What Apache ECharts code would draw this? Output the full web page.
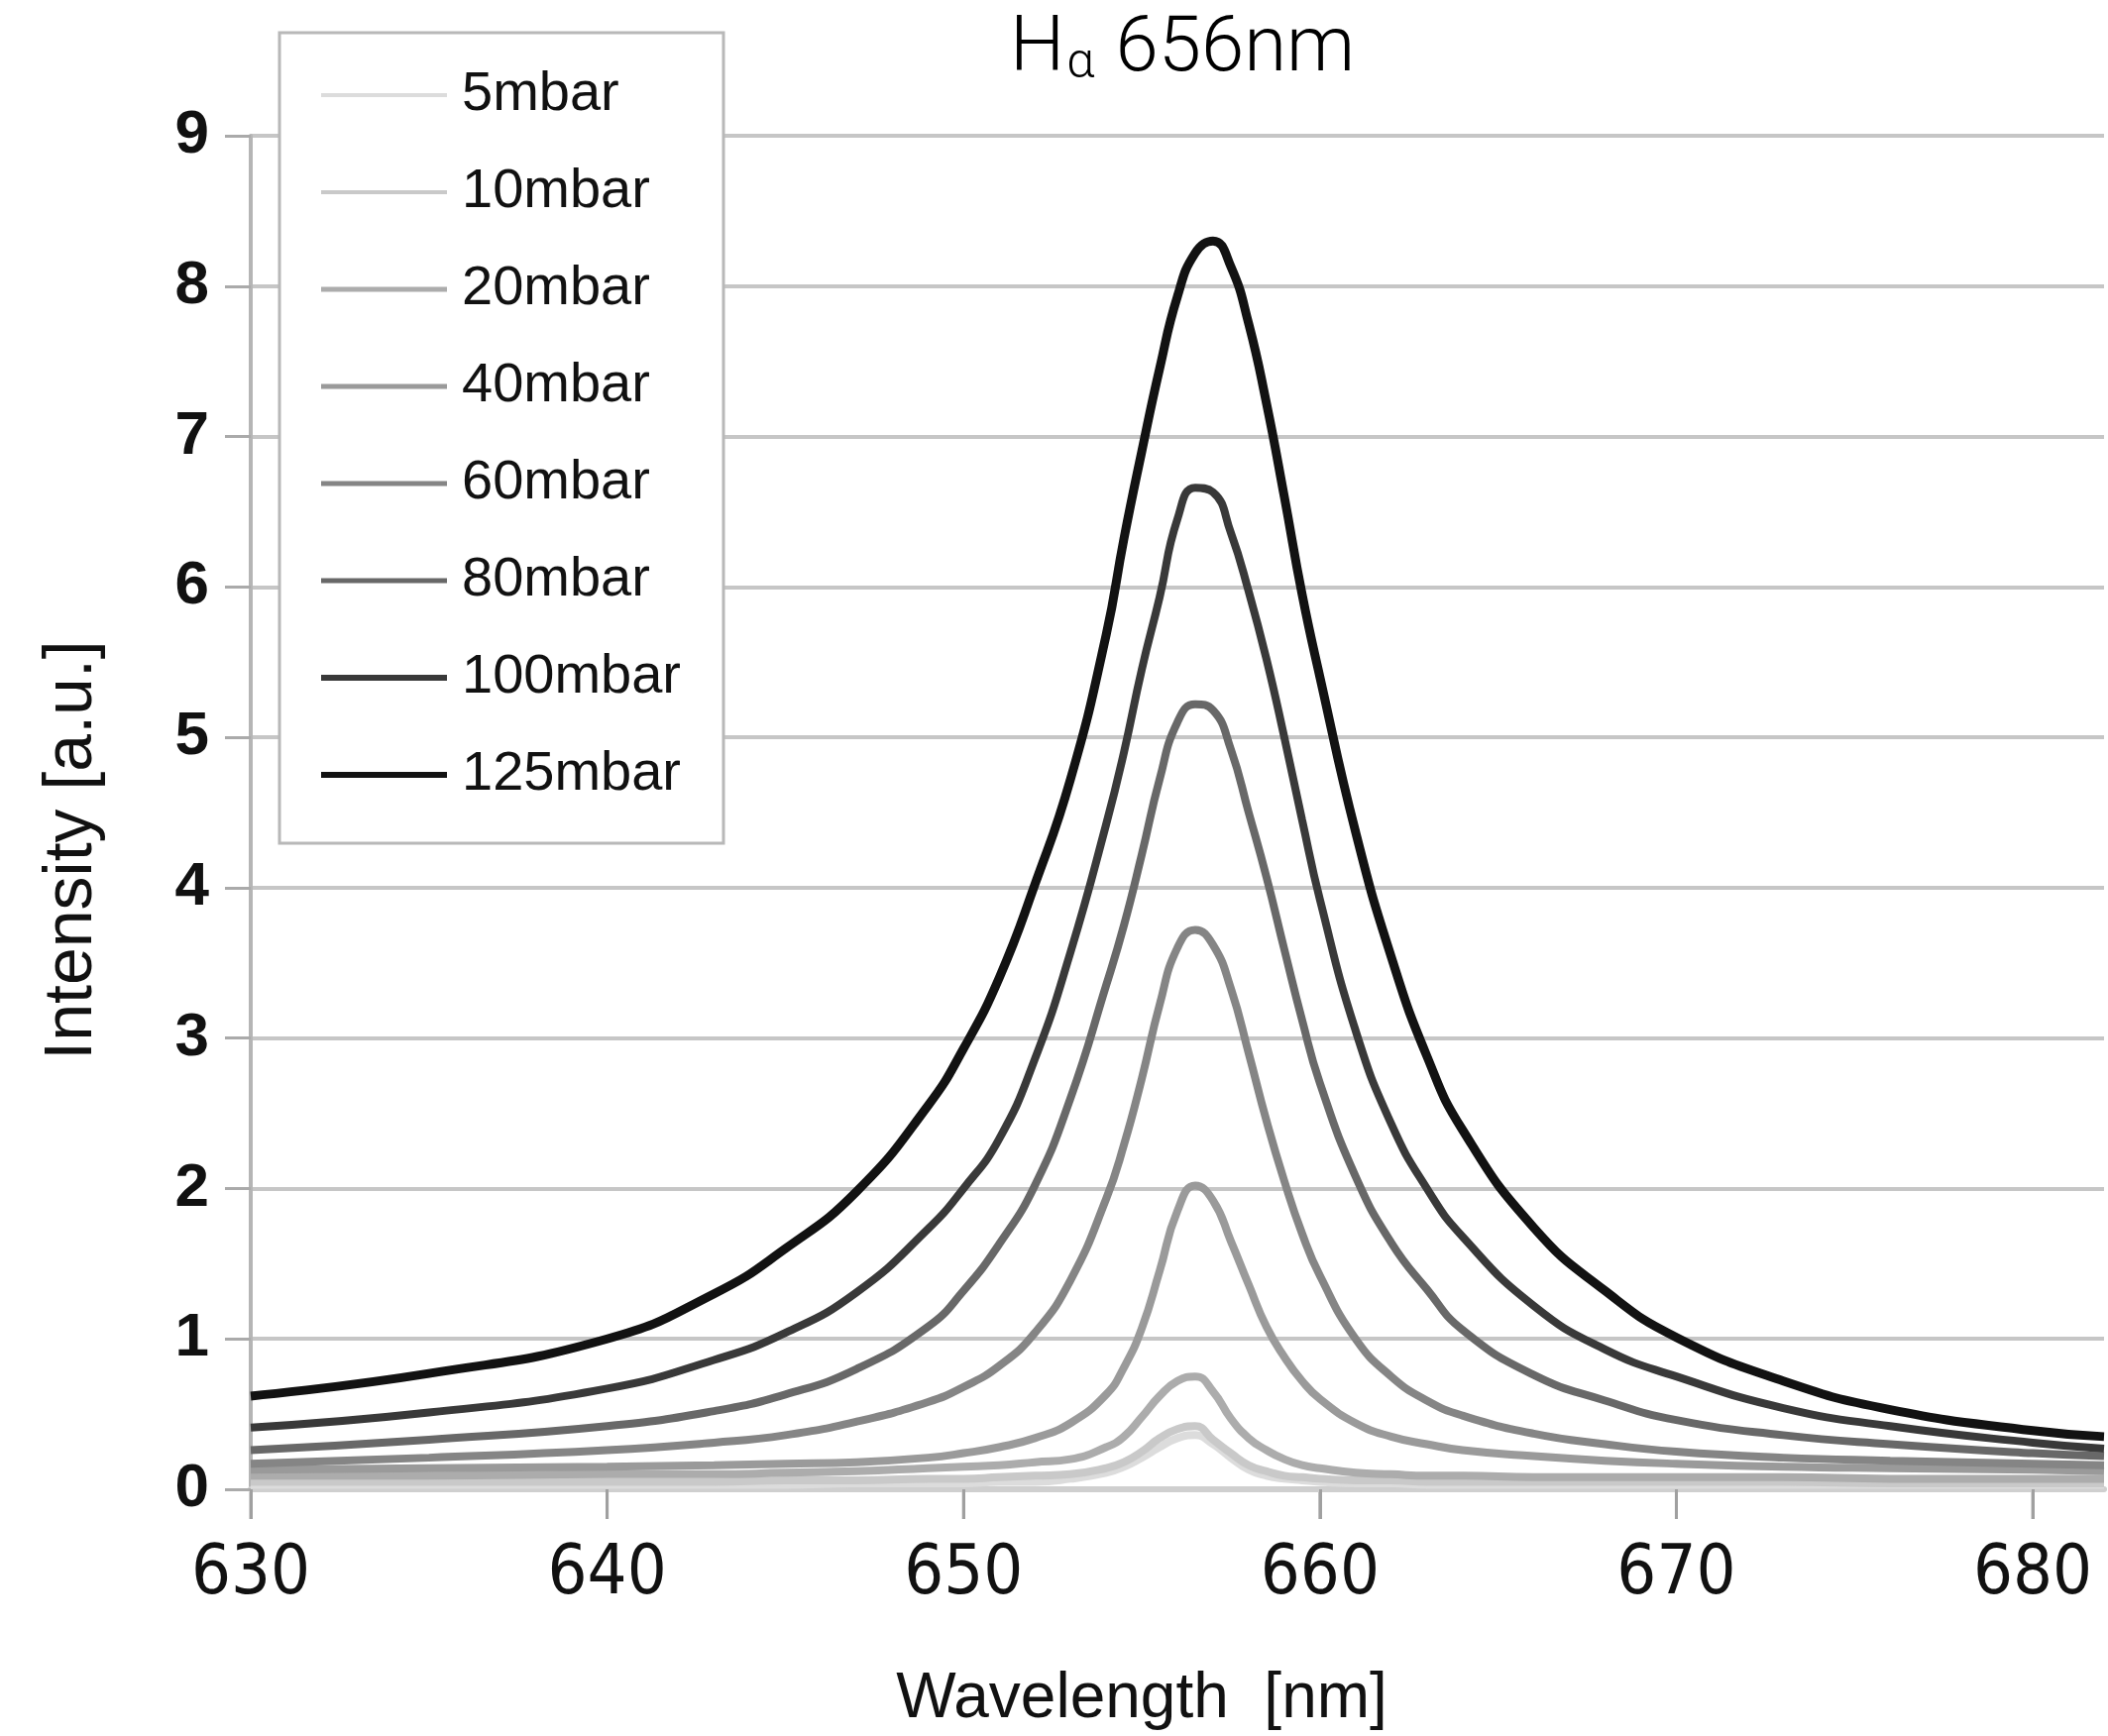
<!DOCTYPE html>
<html>
<head>
<meta charset="utf-8">
<title>H-alpha 656nm</title>
<style>
  html, body { margin: 0; padding: 0; background: #fff; }
  #chart-container { width: 2127px; height: 1752px; }
</style>
<script src="https://cdn.jsdelivr.net/npm/echarts@6.0.0/dist/echarts.min.js"></script>
</head>
<body>
<div id="chart-container"></div>
<script>
// wavelength grid [nm]
var wavelength = [630, 635, 640, 643, 645, 647, 649, 650, 651, 652, 653, 654, 654.5, 655, 655.5, 656, 656.5, 657, 657.5, 658, 658.5, 659, 659.5, 660, 661, 662, 663, 664, 666, 668, 670, 673, 676, 680, 682];

// intensity [a.u.] per pressure
var p5 = [0.03, 0.03, 0.03, 0.03, 0.03, 0.04, 0.04, 0.04, 0.05, 0.05, 0.07, 0.11, 0.15, 0.21, 0.28, 0.34, 0.36, 0.30, 0.21, 0.13, 0.09, 0.07, 0.06, 0.05, 0.04, 0.04, 0.03, 0.03, 0.03, 0.03, 0.03, 0.03, 0.03, 0.03, 0.03];
var p10 = [0.05, 0.05, 0.05, 0.05, 0.06, 0.06, 0.07, 0.07, 0.08, 0.09, 0.10, 0.14, 0.18, 0.25, 0.34, 0.40, 0.42, 0.33, 0.24, 0.16, 0.12, 0.09, 0.08, 0.07, 0.06, 0.06, 0.05, 0.05, 0.05, 0.05, 0.05, 0.05, 0.04, 0.04, 0.04];
var p20 = [0.09, 0.09, 0.10, 0.10, 0.11, 0.12, 0.14, 0.15, 0.16, 0.18, 0.20, 0.28, 0.35, 0.48, 0.62, 0.72, 0.75, 0.65, 0.47, 0.34, 0.26, 0.20, 0.16, 0.14, 0.11, 0.10, 0.09, 0.09, 0.08, 0.08, 0.08, 0.08, 0.07, 0.07, 0.07];
var p40 = [0.13, 0.14, 0.15, 0.16, 0.17, 0.18, 0.21, 0.24, 0.28, 0.34, 0.44, 0.63, 0.81, 1.07, 1.45, 1.85, 2.02, 1.92, 1.65, 1.36, 1.08, 0.88, 0.72, 0.60, 0.44, 0.35, 0.30, 0.26, 0.22, 0.19, 0.17, 0.15, 0.14, 0.13, 0.12];
var p60 = [0.17, 0.21, 0.26, 0.31, 0.36, 0.45, 0.58, 0.68, 0.82, 1.04, 1.39, 1.93, 2.29, 2.73, 3.22, 3.60, 3.72, 3.62, 3.33, 2.90, 2.45, 2.05, 1.70, 1.42, 1.00, 0.75, 0.59, 0.49, 0.37, 0.30, 0.25, 0.21, 0.19, 0.17, 0.16];
var p80 = [0.26, 0.33, 0.42, 0.52, 0.63, 0.80, 1.08, 1.32, 1.63, 2.02, 2.60, 3.35, 3.75, 4.22, 4.72, 5.10, 5.22, 5.18, 4.92, 4.50, 4.07, 3.59, 3.12, 2.70, 2.08, 1.64, 1.33, 1.06, 0.76, 0.59, 0.46, 0.36, 0.30, 0.24, 0.22];
var p100 = [0.41, 0.51, 0.67, 0.86, 1.04, 1.31, 1.73, 2.00, 2.33, 2.86, 3.57, 4.42, 4.90, 5.45, 5.93, 6.45, 6.66, 6.63, 6.36, 5.97, 5.52, 5.00, 4.45, 3.92, 3.05, 2.43, 2.00, 1.68, 1.22, 0.93, 0.75, 0.54, 0.42, 0.31, 0.27];
var p125 = [0.62, 0.77, 1.00, 1.30, 1.60, 1.98, 2.55, 2.93, 3.40, 4.02, 4.72, 5.68, 6.32, 6.90, 7.45, 7.93, 8.22, 8.30, 8.13, 7.75, 7.22, 6.60, 5.95, 5.40, 4.37, 3.54, 2.88, 2.39, 1.74, 1.32, 1.01, 0.72, 0.53, 0.39, 0.35];

var seriesNames = ['5mbar', '10mbar', '20mbar', '40mbar', '60mbar', '80mbar', '100mbar', '125mbar'];
var seriesValues = [p5, p10, p20, p40, p60, p80, p100, p125];
var seriesColors = ['#dcdcdc', '#c9c9c9', '#acacac', '#9a9a9a', '#858585', '#686868', '#393939', '#121212'];
var legendLineWidths = [4, 4, 5, 5, 5, 5, 6, 6];

// x tick positions [nm]
var xTicks = [630, 640, 650, 660, 670, 680];

var baseFont = '"Liberation Sans", Arial, sans-serif';

var dom = document.getElementById('chart-container');
var myChart = echarts.init(dom, null, { renderer: 'canvas' });

var series = seriesNames.map(function (name, i) {
    return {
        name: name,
        type: 'line',
        data: wavelength.map(function (w, k) { return [w, seriesValues[i][k]]; }),
        symbol: 'none',
        smooth: 0.5,
        color: seriesColors[i],
        lineStyle: { color: seriesColors[i], width: i === 7 ? 9 : 8 },
        z: 2 + i
    };
});

// tick marks under the x axis
series.push({
    type: 'custom',
    name: 'xticks',
    coordinateSystem: 'cartesian2d',
    silent: true,
    clip: false,
    z: 20,
    data: xTicks.map(function (v) { return [v, 0]; }),
    renderItem: function (params, api) {
        var p = api.coord([api.value(0), 0]);
        return {
            type: 'rect',
            shape: { x: p[0] - 1.5, y: p[1] + 3, width: 3, height: 27 },
            style: { fill: '#a0a0a0' }
        };
    }
});

var legendData = seriesNames.map(function (name, i) {
    return { name: name, lineStyle: { color: seriesColors[i], width: legendLineWidths[i] } };
});

var option = {
    backgroundColor: '#ffffff',
    animation: false,
    title: {
        text: '{h|H}{a|α}{n| 656nm}',
        left: 1019,
        top: 12,
        padding: 0,
        textStyle: {
            rich: {
                h: { fontSize: 78, fontWeight: 300, fontFamily: 'Roboto, "Liberation Sans", sans-serif', color: '#000' },
                a: { fontSize: 50, fontWeight: 300, fontFamily: 'Roboto, "Liberation Sans", sans-serif', color: '#000', verticalAlign: 'bottom', padding: [0, 2, 0, 2] },
                n: { fontSize: 78, fontWeight: 300, fontFamily: 'Roboto, "Liberation Sans", sans-serif', color: '#000' }
            }
        }
    },
    legend: {
        orient: 'vertical',
        left: 282,
        top: 33,
        padding: [33, 40, 39, 39],
        itemWidth: 127,
        itemHeight: 60,
        itemGap: 38,
        backgroundColor: '#ffffff',
        borderColor: '#b8b8b8',
        borderWidth: 3,
        itemStyle: { opacity: 0 },
        data: legendData,
        textStyle: {
            fontSize: 56,
            lineHeight: 60,
            fontFamily: baseFont,
            color: '#111',
            width: 224,
            padding: [0, 0, 0, 10]
        }
    },
    grid: {
        left: 253,
        right: 4,
        top: 137,
        bottom: 249
    },
    xAxis: {
        type: 'value',
        min: 630,
        max: 682,
        interval: 10,
        name: 'Wavelength  [nm]',
        nameLocation: 'middle',
        nameGap: 180,
        nameTextStyle: {
            fontSize: 64,
            fontFamily: baseFont,
            color: '#111',
            padding: [0, 72, 0, 0]
        },
        axisLine: { show: true, onZero: false, lineStyle: { color: '#cfcfcf', width: 6 } },
        axisTick: { show: true, inside: false, length: 30, lineStyle: { color: '#a0a0a0', width: 3 } },
        axisLabel: {
            showMaxLabel: false,
            margin: 52,
            fontSize: 70,
            fontFamily: '"Liberation Sans Narrow", "DejaVu Sans Condensed", "Liberation Sans", sans-serif',
            color: '#111'
        },
        splitLine: { show: false }
    },
    yAxis: {
        type: 'value',
        min: 0,
        max: 9,
        interval: 1,
        name: 'Intensity [a.u.]',
        nameLocation: 'middle',
        nameGap: 146,
        nameTextStyle: {
            fontSize: 68,
            fontFamily: baseFont,
            color: '#111',
            padding: [0, 76, 0, 0]
        },
        axisLine: { show: true, lineStyle: { color: '#b5b5b5', width: 4 } },
        axisTick: { show: true, length: 26, lineStyle: { color: '#aaaaaa', width: 3 } },
        axisLabel: {
            margin: 42,
            fontSize: 62,
            fontWeight: 'bold',
            fontFamily: baseFont,
            color: '#111'
        },
        splitLine: { show: true, lineStyle: { color: '#c6c6c6', width: 4 } }
    },
    series: series
};

myChart.setOption(option);

window.addEventListener('resize', function () {
    myChart.resize();
});
</script>
</body>
</html>
